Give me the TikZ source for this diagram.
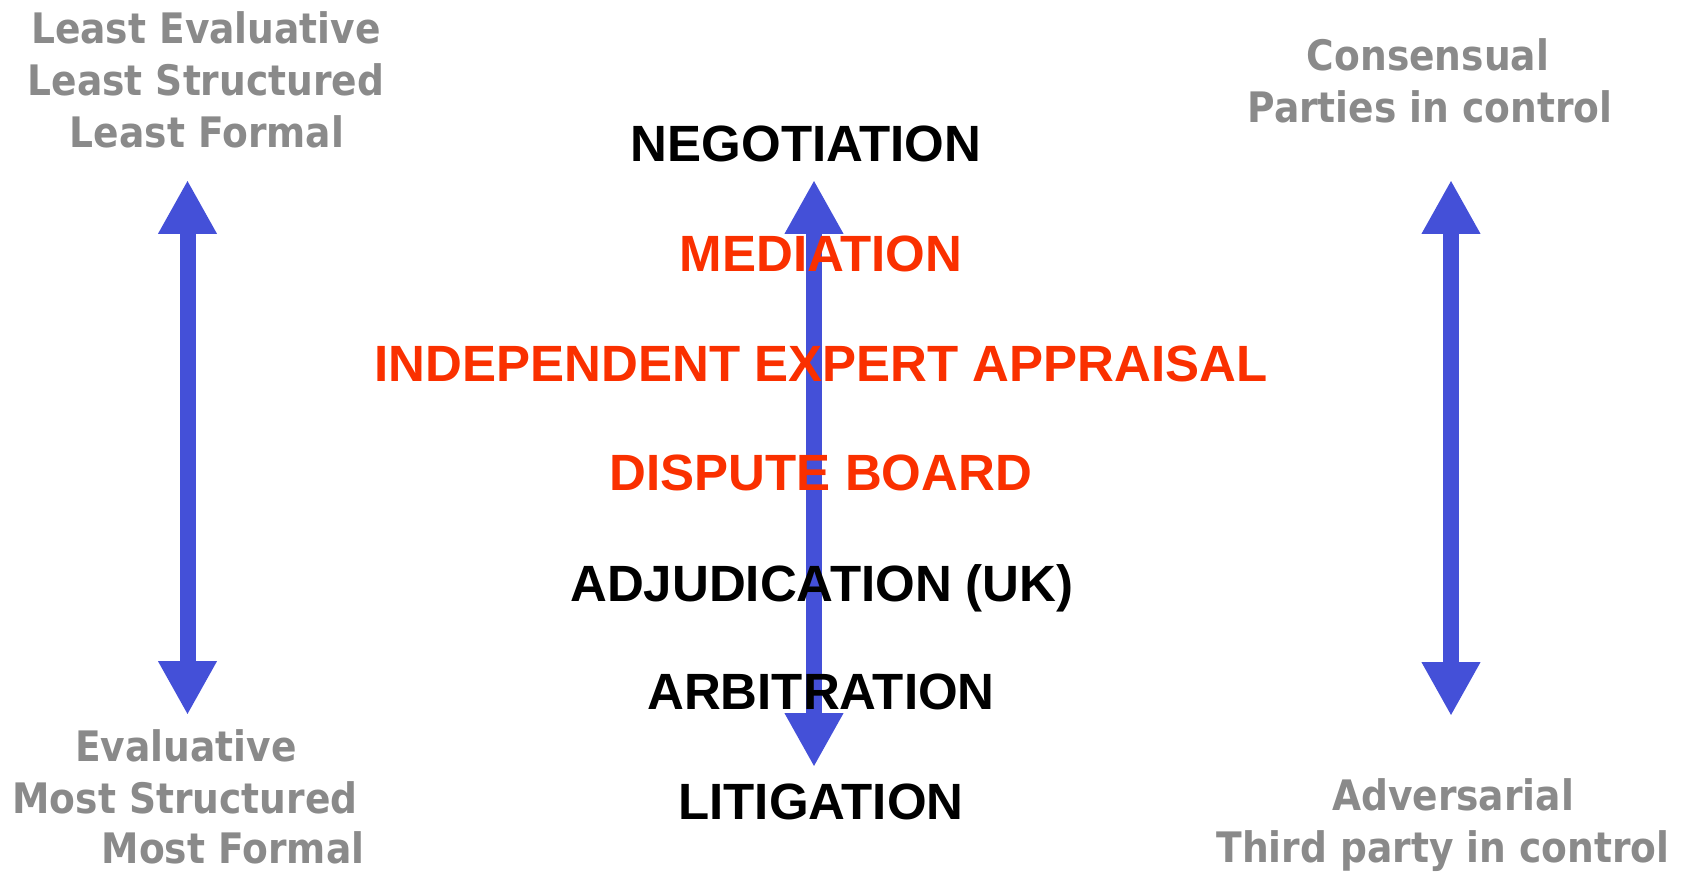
\documentclass[tikz,border=0pt]{standalone}
\usepackage{fontspec}
\setmainfont{Liberation Sans}
\newfontfamily\grayfont[FakeStretch=0.895]{DejaVu Sans}
\usetikzlibrary{arrows.meta}
\definecolor{arrblue}{RGB}{68,80,216}
\definecolor{lblgray}{RGB}{138,138,138}
\definecolor{lblred}{RGB}{250,48,0}
\begin{document}
\begin{tikzpicture}[x=1pt,y=-1pt,
  mainlbl/.style={anchor=base,inner sep=0pt,font=\fontsize{51}{61}\selectfont\bfseries},
  redlbl/.style={mainlbl,text=lblred},
  blacklbl/.style={mainlbl,text=black},
  graylbl/.style={anchor=base,inner sep=0pt,text=lblgray,font=\grayfont\fontsize{42}{52}\selectfont\bfseries},
  dblarrow/.style={draw=arrblue,line width=16pt,{Triangle[length=54pt,width=55pt]}-{Triangle[length=54pt,width=55pt]}}]
\useasboundingbox (0,0) rectangle (1690,874);
% arrows
\coordinate (lt) at (187.5,180);
\coordinate (lb) at (187.5,715);
\coordinate (mt) at (814,180);
\coordinate (mb) at (814,767);
\coordinate (rt) at (1451,180);
\coordinate (rb) at (1451,716);
\draw[dblarrow] (lt) -- (lb);
\draw[dblarrow] (mt) -- (mb);
\draw[dblarrow] (rt) -- (rb);
% central labels
\node[blacklbl] (neg) at (806,162) {NEGOTIATION};
\node[redlbl] (med) at (821,272) {MEDIATION};
\node[redlbl] (iea) at (821,382) {INDEPENDENT EXPERT APPRAISAL};
\node[redlbl] (db) at (821,490) {DISPUTE BOARD};
\node[blacklbl] (adj) at (822,601) {ADJUDICATION (UK)};
\node[blacklbl] (arb) at (821,709) {ARBITRATION};
\node[blacklbl] (lit) at (821,819) {LITIGATION};
% left labels
\node[graylbl] (lt1) at (206,44) {Least Evaluative};
\node[graylbl] (lt2) at (206,96) {Least Structured};
\node[graylbl] (lt3) at (207,148) {Least Formal};
\node[graylbl] (lb1) at (186,761) {Evaluative};
\node[graylbl] (lb2) at (185,813) {Most Structured};
\node[graylbl] (lb3) at (233,863) {Most Formal};
% right labels
\node[graylbl] (rt1) at (1428,71) {Consensual};
\node[graylbl] (rt2) at (1430,123) {Parties in control};
\node[graylbl] (rb1) at (1453,810) {Adversarial};
\node[graylbl] (rb2) at (1443,862) {Third party in control};
\end{tikzpicture}
\end{document}
